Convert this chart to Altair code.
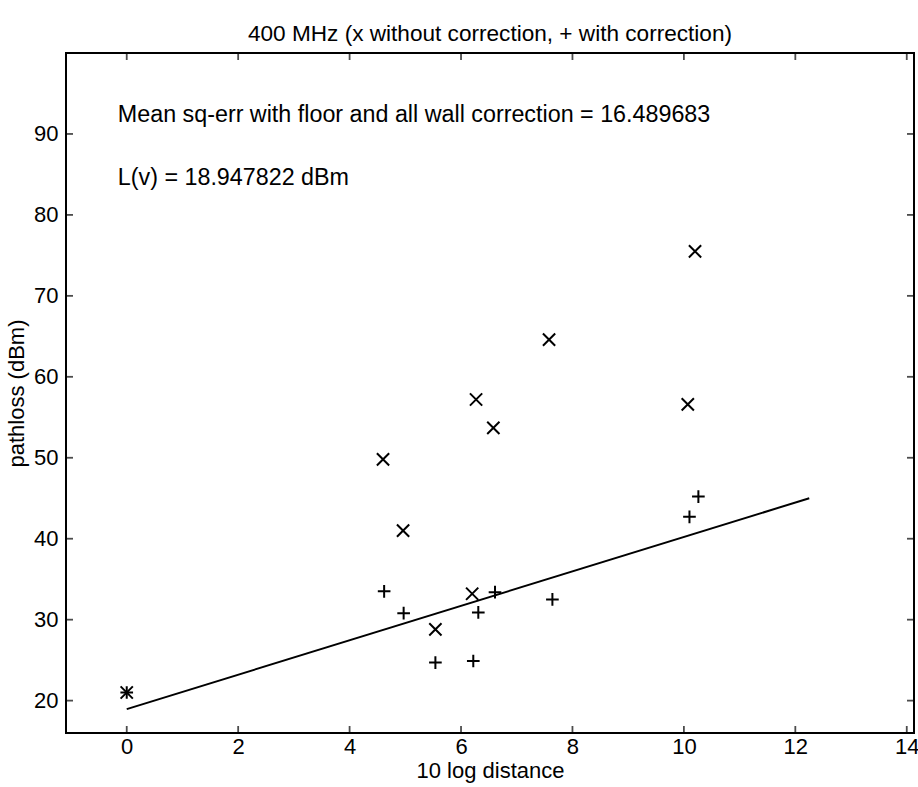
import altair as alt
import pandas as pd

# ---- data ----
x_ticks = [0, 2, 4, 6, 8, 10, 12, 14]
y_ticks = [20, 30, 40, 50, 60, 70, 80, 90]

# without correction (x markers)
raw_x = [0.0, 4.60, 4.96, 5.54, 6.20, 6.27, 6.58, 7.58, 10.07, 10.20]
raw_y = [21.0, 49.8, 41.0, 28.8, 33.2, 57.2, 53.7, 64.6, 56.6, 75.5]

# with correction (+ markers)
cor_x = [0.0, 4.62, 4.97, 5.54, 6.22, 6.31, 6.61, 7.64, 10.10, 10.26]
cor_y = [21.0, 33.5, 30.8, 24.7, 24.9, 30.9, 33.4, 32.5, 42.7, 45.2]

# fitted line
fit_x = [0.0, 12.25]
fit_y = [18.947822, 45.0]

# annotations
note_x = [-0.16, -0.16]
note_y = [92.4, 84.6]
note_text = ["Mean sq-err with floor and all wall correction = 16.489683",
             "L(v) = 18.947822 dBm"]

title_text = "400 MHz (x without correction, + with correction)"

XMIN, XMAX = -1.09, 14.13
YMIN, YMAX = 16, 100

FONT = "Liberation Sans"
FS = 22

xs = alt.Scale(domain=[XMIN, XMAX], nice=False, zero=False)
ys = alt.Scale(domain=[YMIN, YMAX], nice=False, zero=False)

x_axis = alt.Axis(values=x_ticks, title="10 log distance", labelPadding=3,
                  titlePadding=3)
y_axis = alt.Axis(values=y_ticks, title="pathloss (dBm)", labelPadding=8,
                  titlePadding=5)


def X(f):
    return alt.X(f"{f}:Q", scale=xs, axis=x_axis)


def Y(f):
    return alt.Y(f"{f}:Q", scale=ys, axis=y_axis)


raw_df = pd.DataFrame({"x": raw_x, "y": raw_y})
cor_df = pd.DataFrame({"x": cor_x, "y": cor_y})
fit_df = pd.DataFrame({"x": fit_x, "y": fit_y})
note_df = pd.DataFrame({"x": note_x, "y": note_y, "t": note_text})
xt_df = pd.DataFrame({"x": x_ticks})
yt_df = pd.DataFrame({"y": y_ticks})

X_SHAPE = "M-1,-1L1,1M1,-1L-1,1"
PLUS_SHAPE = "M-1,0L1,0M0,-1L0,1"

TL = 7  # tick length

tick_bottom = alt.Chart(xt_df).mark_tick(
    orient="vertical", size=TL, thickness=1.8, color="black", yOffset=-TL / 2
).encode(x=X("x"), y=alt.YDatum(YMIN, type="quantitative", scale=ys, axis=y_axis))

tick_top = alt.Chart(xt_df).mark_tick(
    orient="vertical", size=TL, thickness=1.8, color="black", yOffset=TL / 2
).encode(x=X("x"), y=alt.YDatum(YMAX, type="quantitative", scale=ys, axis=y_axis))

tick_left = alt.Chart(yt_df).mark_tick(
    orient="horizontal", size=TL, thickness=1.8, color="black", xOffset=TL / 2
).encode(y=Y("y"), x=alt.XDatum(XMIN, type="quantitative", scale=xs, axis=x_axis))

tick_right = alt.Chart(yt_df).mark_tick(
    orient="horizontal", size=TL, thickness=1.8, color="black", xOffset=-TL / 2
).encode(y=Y("y"), x=alt.XDatum(XMAX, type="quantitative", scale=xs, axis=x_axis))

fit_line = alt.Chart(fit_df).mark_line(color="black", strokeWidth=2).encode(
    x=X("x"), y=Y("y")
)

raw_pts = alt.Chart(raw_df).mark_point(
    shape=X_SHAPE, filled=False, color="black", size=150, strokeWidth=2, opacity=1
).encode(x=X("x"), y=Y("y"))

cor_pts = alt.Chart(cor_df).mark_point(
    shape=PLUS_SHAPE, filled=False, color="black", size=160, strokeWidth=2, opacity=1
).encode(x=X("x"), y=Y("y"))

notes = alt.Chart(note_df).mark_text(
    align="left", baseline="middle", font=FONT, fontSize=23.3, color="black"
).encode(x=X("x"), y=Y("y"), text="t:N")

chart = alt.layer(
    tick_bottom, tick_top, tick_left, tick_right, fit_line, raw_pts, cor_pts, notes
).properties(
    width=848,
    height=680,
    padding={"left": 66, "top": 53, "right": 4, "bottom": 54},
    autosize=alt.AutoSizeParams(type="none"),
    background="white",
    title=alt.Title(title_text, font=FONT, fontSize=22.6, fontWeight="normal",
                    color="black", anchor="middle", offset=7),
).configure_view(
    stroke="black", strokeWidth=2
).configure_axis(
    domain=False, ticks=False, grid=False,
    labelFont=FONT, labelFontSize=FS, labelColor="black",
    titleFont=FONT, titleFontSize=FS, titleFontWeight="normal", titleColor="black",
)

chart.save("out.html", embed_options={"renderer": "svg", "actions": False})
